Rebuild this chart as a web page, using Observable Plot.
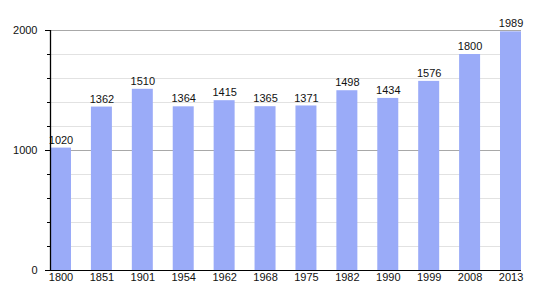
<!DOCTYPE html>
<html>
<head>
<meta charset="utf-8">
<script src="https://cdn.jsdelivr.net/npm/d3@7"></script>
<script src="https://cdn.jsdelivr.net/npm/@observablehq/plot@0.6"></script>
<style>
  html, body { margin: 0; padding: 0; background: #fff; }
  #chart svg { display: block; }
</style>
</head>
<body>
<div id="chart"></div>
<script>
const years = ["1800","1851","1901","1954","1962","1968","1975","1982","1990","1999","2008","2013"];
const population = [1020,1362,1510,1364,1415,1365,1371,1498,1434,1576,1800,1989];
const majorTicks = [0, 1000, 2000];
const minorTicks = [200, 400, 600, 800, 1200, 1400, 1600, 1800];

const data = years.map((y, i) => ({year: y, value: population[i]}));
const W = 550, H = 300;
const margins = {left: 50, right: 29, top: 30, bottom: 30};
const xOpts = {domain: years, paddingInner: 0.487, paddingOuter: 0, round: false, label: null};

// standalone copy of the x scale, to know the band width
const xs = Plot.scale({x: {...xOpts, type: "band", range: [margins.left, W - margins.right]}});
const bw = xs.bandwidth || 0;

const chart = Plot.plot({
  width: W,
  height: H,
  marginLeft: margins.left,
  marginRight: margins.right,
  marginTop: margins.top,
  marginBottom: margins.bottom,
  style: {fontFamily: "'Liberation Sans', Arial, sans-serif", fontSize: "11px", color: "#222", background: "#fff"},
  x: xOpts,
  y: {domain: [0, 2000], label: null},
  marks: [
    Plot.ruleY(minorTicks, {stroke: "#e2e2e2", strokeWidth: 1}),
    Plot.ruleY([1000, 2000], {stroke: "#a8a8a8", strokeWidth: 1}),
    Plot.barY(data, {x: "year", y: "value", fill: "#9aabf8"}),
    Plot.text(data, {x: "year", y: "value", text: d => String(d.value), dy: -8, fill: "#111", fontSize: 11}),
    Plot.axisY({ticks: majorTicks, tickSize: 5, tickPadding: 8, tickFormat: d => String(d), stroke: "#000", fill: "#111", label: null}),
    Plot.axisY({ticks: minorTicks, tickSize: 3, tickFormat: () => "", stroke: "#000", label: null}),
    Plot.axisX({tickSize: 0, tickPadding: 3, fill: "#111", label: null}),
    Plot.ruleX([years[0]], {x: d => d, y1: majorTicks[0], y2: majorTicks[majorTicks.length - 1], dx: -bw / 2, stroke: "#000", strokeWidth: 1.3}),
    Plot.ruleY([0], {stroke: "#000", strokeWidth: 1.2})
  ]
});

document.getElementById("chart").appendChild(chart);
</script>
</body>
</html>
